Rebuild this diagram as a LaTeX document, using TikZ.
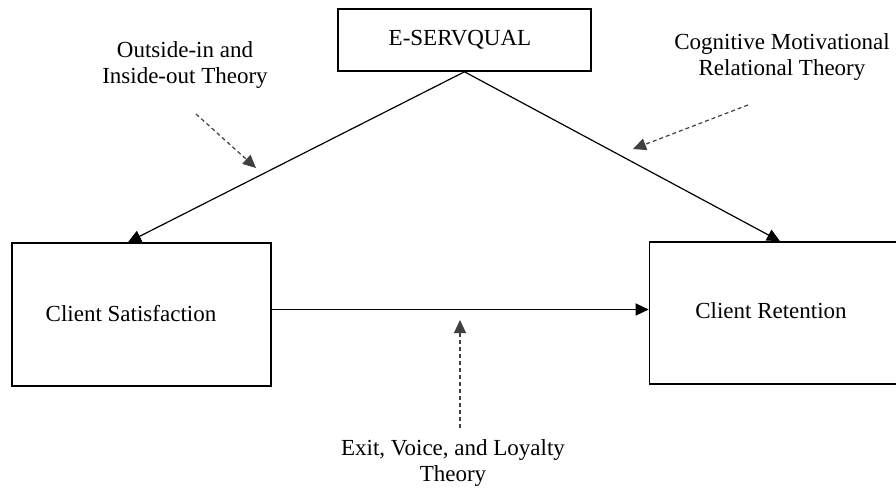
\documentclass[tikz,border=0pt]{standalone}
\usepackage{fontspec}
\setmainfont{Liberation Serif}
\usetikzlibrary{arrows.meta,calc}
\begin{document}
\begin{tikzpicture}[x=0.5pt,y=-0.5pt,
  font=\fontsize{11.5pt}{13pt}\selectfont,
  boxnode/.style={draw,line width=0.8pt,rectangle,inner sep=0pt},
  solidarrow/.style={line width=0.6pt,-{Triangle[length=6.5pt,width=6pt]}},
  dasharrow/.style={line width=0.6pt,black!75,dash pattern=on 2pt off 1.5pt,-{Triangle[length=6.5pt,width=6pt]}},
  lbl/.style={align=center,inner sep=0pt}]
\clip (0,0) rectangle (896,488);
\fill[white] (0,0) rectangle (896,488);
% boxes
\node[boxnode,minimum width=126.5pt,minimum height=31pt] (e) at (464.5,40) {};
\node[lbl] (et) at (460,40) {E-SERVQUAL};
\node[boxnode,minimum width=129.5pt,minimum height=71.5pt] (cs) at (141.5,314.5) {};
\node[lbl] (cst) at (131,314) {Client Satisfaction};
\node[boxnode,minimum width=127pt,minimum height=71pt] (cr) at (776.5,313) {};
\node[lbl] (crt) at (771,311) {Client Retention};
% solid arrows
\draw[solidarrow] (e.south) -- ($(cs.north)+(-13.5,0)$);
\draw[solidarrow] (e.south) -- ($(cr.north)+(3.5,0)$);
\coordinate (hstart) at ($(cs.east)+(0,-5)$);
\draw[solidarrow] (hstart) -- (hstart -| cr.west);
% theory labels
\node[lbl] (oi) at (185,65) {Outside-in and\\Inside-out Theory};
\node[lbl] (cm) at (782,57) {Cognitive Motivational\\Relational Theory};
\node[lbl] (ev) at (453,463) {Exit, Voice, and Loyalty\\Theory};
% dashed arrows
\coordinate (d1s) at (196,114);
\coordinate (d1e) at (256,168);
\coordinate (d2s) at (748,105);
\coordinate (d2e) at (633,149);
\coordinate (d3s) at (460,428);
\coordinate (d3e) at (460,320);
\draw[dasharrow] (d1s) -- (d1e);
\draw[dasharrow] (d2s) -- (d2e);
\draw[dasharrow] (d3s) -- (d3e);
\end{tikzpicture}
\end{document}
